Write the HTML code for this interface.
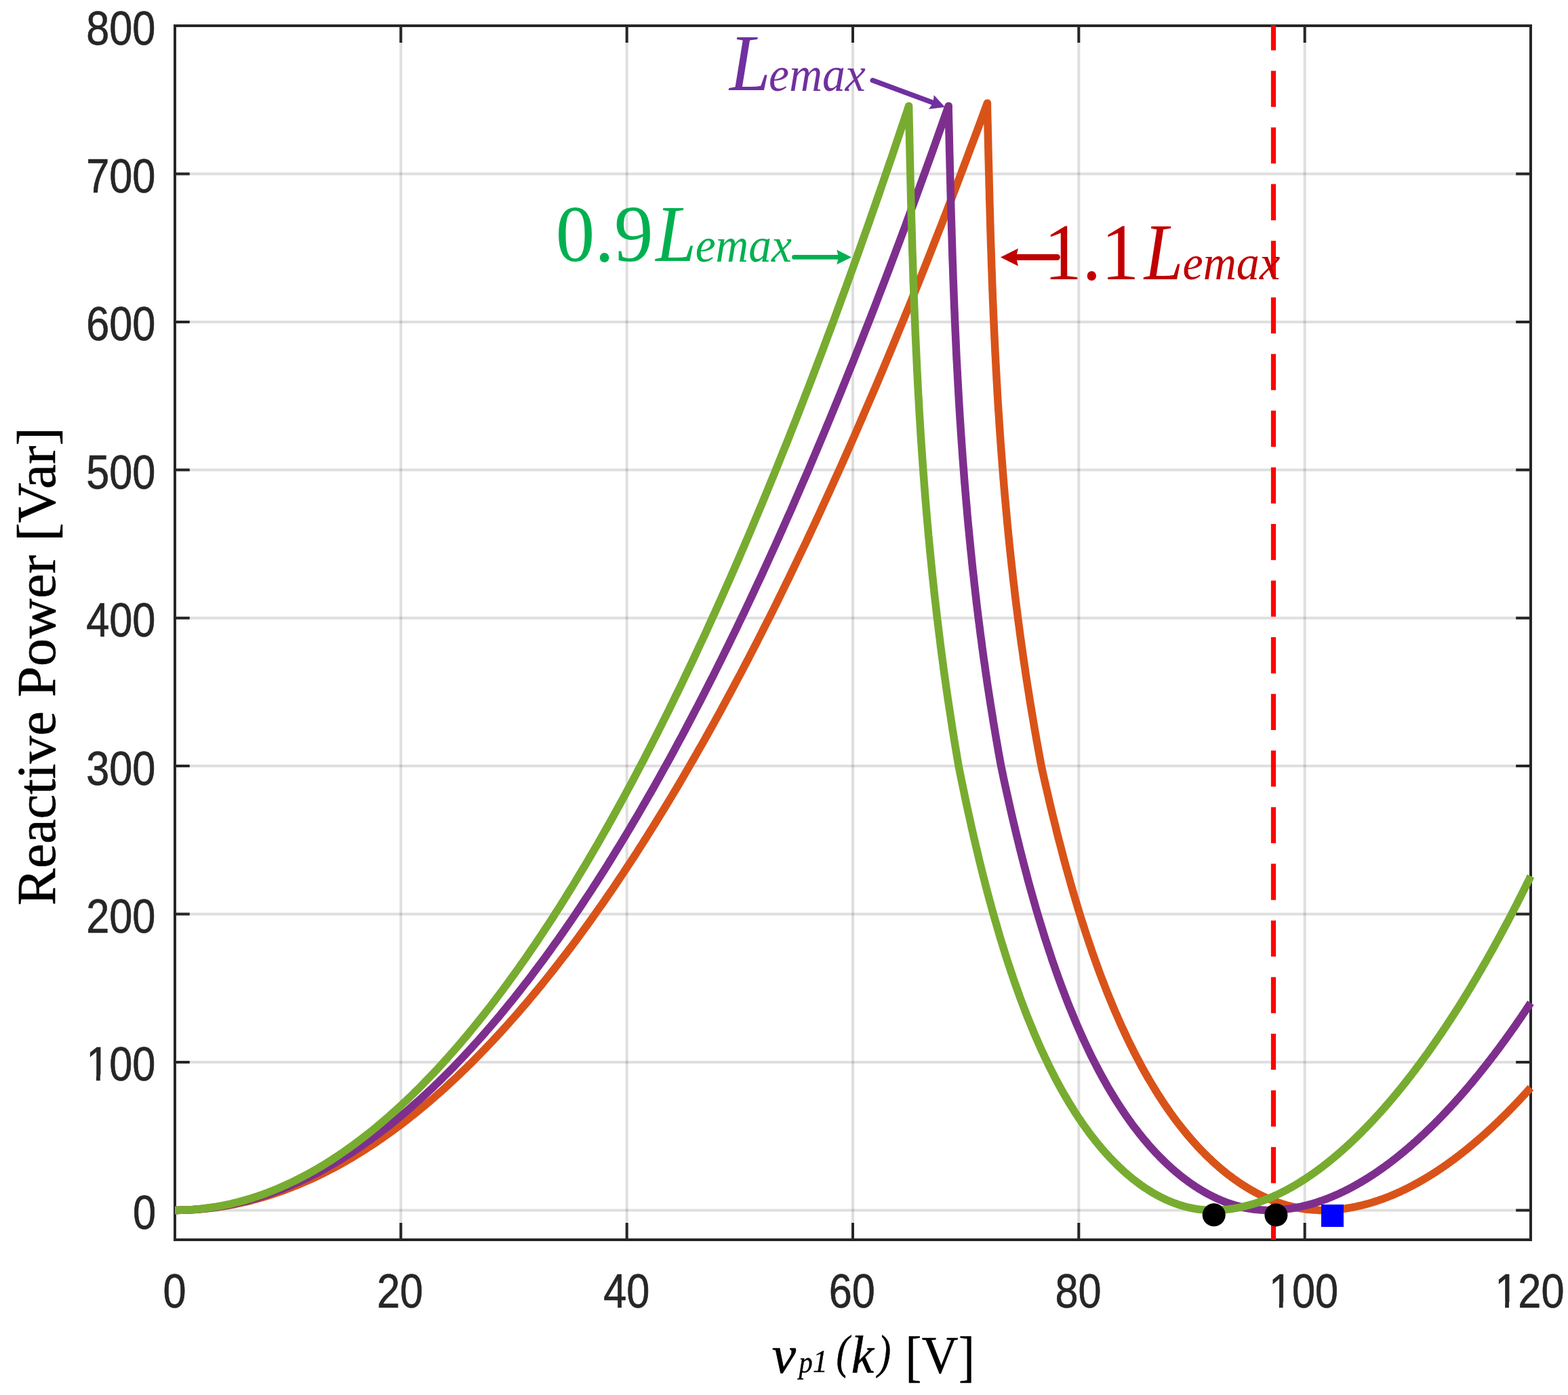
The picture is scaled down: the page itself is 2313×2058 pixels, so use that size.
<!DOCTYPE html><html><head><meta charset="utf-8"><title>Reactive Power vs v_p1(k)</title><style>html,body{margin:0;padding:0;background:#fff;}svg{display:block}</style></head><body>
<svg width="2313" height="2058" viewBox="0 0 2313 2058">
<rect width="2313" height="2058" fill="#fff"/>
<path d="M591.3,40 V1827 M924.7,40 V1827 M1258.0,40 V1827 M1591.3,40 V1827 M1924.7,40 V1827" stroke="#262626" stroke-opacity="0.15" stroke-width="4" fill="none"/>
<path d="M260,1785.4 H2256 M260,1567.0 H2256 M260,1348.6 H2256 M260,1130.1 H2256 M260,911.7 H2256 M260,693.3 H2256 M260,474.9 H2256 M260,256.4 H2256" stroke="#262626" stroke-opacity="0.15" stroke-width="4" fill="none"/>
<path d="M258.0,1829 V1804 M258.0,38 V63 M591.3,1829 V1804 M591.3,38 V63 M924.7,1829 V1804 M924.7,38 V63 M1258.0,1829 V1804 M1258.0,38 V63 M1591.3,1829 V1804 M1591.3,38 V63 M1924.7,1829 V1804 M1924.7,38 V63 M2258.0,1829 V1804 M2258.0,38 V63 M258,1785.4 H279.8 M2258,1785.4 H2236.2 M258,1567.0 H279.8 M2258,1567.0 H2236.2 M258,1348.6 H279.8 M2258,1348.6 H2236.2 M258,1130.1 H279.8 M2258,1130.1 H2236.2 M258,911.7 H279.8 M2258,911.7 H2236.2 M258,693.3 H279.8 M2258,693.3 H2236.2 M258,474.9 H279.8 M2258,474.9 H2236.2 M258,256.4 H279.8 M2258,256.4 H2236.2 M258,38.0 H279.8 M2258,38.0 H2236.2" stroke="#262626" stroke-width="4" fill="none"/>
<rect x="258" y="38" width="2000" height="1791" stroke="#262626" stroke-width="4" fill="none"/>
<path d="M258.0,1785.4 L262.0,1785.4 L266.0,1785.3 L270.0,1785.2 L274.0,1785.1 L278.0,1784.9 L282.0,1784.7 L286.1,1784.5 L290.1,1784.2 L294.1,1783.9 L298.1,1783.6 L302.1,1783.2 L306.1,1782.8 L310.1,1782.3 L314.1,1781.8 L318.1,1781.3 L322.1,1780.7 L326.1,1780.1 L330.1,1779.5 L334.2,1778.8 L338.2,1778.1 L342.2,1777.3 L346.2,1776.6 L350.2,1775.7 L354.2,1774.9 L358.2,1774.0 L362.2,1773.1 L366.2,1772.1 L370.2,1771.1 L374.2,1770.0 L378.2,1769.0 L382.2,1767.8 L386.3,1766.7 L390.3,1765.5 L394.3,1764.3 L398.3,1763.0 L402.3,1761.7 L406.3,1760.4 L410.3,1759.0 L414.3,1757.6 L418.3,1756.2 L422.3,1754.7 L426.3,1753.2 L430.3,1751.6 L434.4,1750.0 L438.4,1748.4 L442.4,1746.7 L446.4,1745.0 L450.4,1743.3 L454.4,1741.5 L458.4,1739.7 L462.4,1737.9 L466.4,1736.0 L470.4,1734.1 L474.4,1732.1 L478.4,1730.1 L482.4,1728.1 L486.5,1726.0 L490.5,1723.9 L494.5,1721.8 L498.5,1719.6 L502.5,1717.4 L506.5,1715.2 L510.5,1712.9 L514.5,1710.6 L518.5,1708.2 L522.5,1705.8 L526.5,1703.4 L530.5,1700.9 L534.6,1698.4 L538.6,1695.9 L542.6,1693.3 L546.6,1690.7 L550.6,1688.1 L554.6,1685.4 L558.6,1682.6 L562.6,1679.9 L566.6,1677.1 L570.6,1674.3 L574.6,1671.4 L578.6,1668.5 L582.6,1665.5 L586.7,1662.6 L590.7,1659.6 L594.7,1656.5 L598.7,1653.4 L602.7,1650.3 L606.7,1647.1 L610.7,1643.9 L614.7,1640.7 L618.7,1637.4 L622.7,1634.1 L626.7,1630.8 L630.7,1627.4 L634.8,1624.0 L638.8,1620.5 L642.8,1617.0 L646.8,1613.5 L650.8,1610.0 L654.8,1606.4 L658.8,1602.7 L662.8,1599.0 L666.8,1595.3 L670.8,1591.6 L674.8,1587.8 L678.8,1584.0 L682.8,1580.1 L686.9,1576.3 L690.9,1572.3 L694.9,1568.4 L698.9,1564.4 L702.9,1560.3 L706.9,1556.2 L710.9,1552.1 L714.9,1548.0 L718.9,1543.8 L722.9,1539.6 L726.9,1535.3 L730.9,1531.0 L735.0,1526.7 L739.0,1522.3 L743.0,1517.9 L747.0,1513.5 L751.0,1509.0 L755.0,1504.5 L759.0,1500.0 L763.0,1495.4 L767.0,1490.8 L771.0,1486.1 L775.0,1481.4 L779.0,1476.7 L783.0,1471.9 L787.1,1467.1 L791.1,1462.3 L795.1,1457.4 L799.1,1452.5 L803.1,1447.5 L807.1,1442.5 L811.1,1437.5 L815.1,1432.4 L819.1,1427.4 L823.1,1422.2 L827.1,1417.0 L831.1,1411.8 L835.2,1406.6 L839.2,1401.3 L843.2,1396.0 L847.2,1390.7 L851.2,1385.3 L855.2,1379.8 L859.2,1374.4 L863.2,1368.9 L867.2,1363.3 L871.2,1357.8 L875.2,1352.2 L879.2,1346.5 L883.2,1340.8 L887.3,1335.1 L891.3,1329.4 L895.3,1323.6 L899.3,1317.7 L903.3,1311.9 L907.3,1306.0 L911.3,1300.0 L915.3,1294.1 L919.3,1288.1 L923.3,1282.0 L927.3,1275.9 L931.3,1269.8 L935.4,1263.7 L939.4,1257.5 L943.4,1251.2 L947.4,1245.0 L951.4,1238.7 L955.4,1232.3 L959.4,1225.9 L963.4,1219.5 L967.4,1213.1 L971.4,1206.6 L975.4,1200.1 L979.4,1193.5 L983.4,1186.9 L987.5,1180.3 L991.5,1173.6 L995.5,1166.9 L999.5,1160.2 L1003.5,1153.4 L1007.5,1146.6 L1011.5,1139.7 L1015.5,1132.9 L1019.5,1125.9 L1023.5,1119.0 L1027.5,1112.0 L1031.5,1104.9 L1035.6,1097.9 L1039.6,1090.8 L1043.6,1083.6 L1047.6,1076.4 L1051.6,1069.2 L1055.6,1062.0 L1059.6,1054.7 L1063.6,1047.4 L1067.6,1040.0 L1071.6,1032.6 L1075.6,1025.2 L1079.6,1017.7 L1083.6,1010.2 L1087.7,1002.6 L1091.7,995.1 L1095.7,987.4 L1099.7,979.8 L1103.7,972.1 L1107.7,964.4 L1111.7,956.6 L1115.7,948.8 L1119.7,941.0 L1123.7,933.1 L1127.7,925.2 L1131.7,917.2 L1135.8,909.3 L1139.8,901.2 L1143.8,893.2 L1147.8,885.1 L1151.8,877.0 L1155.8,868.8 L1159.8,860.6 L1163.8,852.4 L1167.8,844.1 L1171.8,835.8 L1175.8,827.4 L1179.8,819.0 L1183.8,810.6 L1187.9,802.2 L1191.9,793.7 L1195.9,785.1 L1199.9,776.6 L1203.9,768.0 L1207.9,759.3 L1211.9,750.6 L1215.9,741.9 L1219.9,733.2 L1223.9,724.4 L1227.9,715.6 L1231.9,706.7 L1235.9,697.8 L1240.0,688.9 L1244.0,679.9 L1248.0,670.9 L1252.0,661.9 L1256.0,652.8 L1260.0,643.7 L1264.0,634.5 L1268.0,625.3 L1272.0,616.1 L1276.0,606.8 L1280.0,597.5 L1284.0,588.2 L1288.1,578.8 L1292.1,569.4 L1296.1,560.0 L1300.1,550.5 L1304.1,541.0 L1308.1,531.4 L1312.1,521.8 L1316.1,512.2 L1320.1,502.5 L1324.1,492.8 L1328.1,483.1 L1332.1,473.3 L1336.1,463.5 L1340.2,453.7 L1344.2,443.8 L1348.2,433.9 L1352.2,423.9 L1356.2,413.9 L1360.2,403.9 L1364.2,393.8 L1368.2,383.7 L1372.2,373.6 L1376.2,363.4 L1380.2,353.2 L1384.2,343.0 L1388.3,332.7 L1392.3,322.3 L1396.3,312.0 L1400.3,301.6 L1404.3,291.2 L1408.3,280.7 L1412.3,270.2 L1416.3,259.7 L1420.3,249.1 L1424.3,238.5 L1428.3,227.8 L1432.3,217.1 L1436.3,206.4 L1440.4,195.6 L1444.4,184.8 L1448.4,174.0 L1452.4,163.1 L1456.4,152.2 L1456.4,158.8 L1456.6,165.4 L1456.7,171.9 L1456.9,178.5 L1457.1,185.1 L1457.2,191.6 L1457.4,198.2 L1457.5,204.7 L1457.7,211.3 L1457.8,217.9 L1458.0,224.4 L1458.1,231.0 L1458.3,237.6 L1458.5,244.1 L1458.6,250.7 L1458.8,257.2 L1459.0,263.8 L1459.1,270.4 L1459.3,276.9 L1459.5,283.5 L1459.6,290.1 L1459.8,296.6 L1460.0,303.2 L1460.2,309.7 L1460.4,316.3 L1460.6,322.9 L1460.7,329.4 L1460.9,336.0 L1461.1,342.6 L1461.3,349.1 L1461.5,355.7 L1461.7,362.3 L1462.0,368.8 L1462.2,375.4 L1462.4,381.9 L1462.6,388.5 L1462.8,395.1 L1463.1,401.6 L1463.3,408.2 L1463.5,414.8 L1463.8,421.3 L1464.0,427.9 L1464.3,434.4 L1464.5,441.0 L1464.8,447.6 L1465.1,454.1 L1465.3,460.7 L1465.6,467.3 L1465.9,473.8 L1466.2,480.4 L1466.5,486.9 L1466.8,493.5 L1467.1,500.1 L1467.4,506.6 L1467.7,513.2 L1468.0,519.8 L1468.4,526.3 L1468.7,532.9 L1469.1,539.5 L1469.4,546.0 L1469.8,552.6 L1470.1,559.1 L1470.5,565.7 L1470.9,572.3 L1471.2,578.8 L1471.6,585.4 L1472.0,592.0 L1472.4,598.5 L1472.8,605.1 L1473.3,611.6 L1473.7,618.2 L1474.1,624.8 L1474.6,631.3 L1475.0,637.9 L1475.5,644.5 L1475.9,651.0 L1476.4,657.6 L1476.9,664.2 L1477.4,670.7 L1477.9,677.3 L1478.4,683.8 L1478.9,690.4 L1479.4,697.0 L1479.9,703.5 L1480.5,710.1 L1481.0,716.7 L1481.6,723.2 L1482.1,729.8 L1482.7,736.3 L1483.3,742.9 L1483.9,749.5 L1484.5,756.0 L1485.1,762.6 L1485.7,769.2 L1486.3,775.7 L1487.0,782.3 L1487.6,788.8 L1488.3,795.4 L1488.9,802.0 L1489.6,808.5 L1490.3,815.1 L1491.0,821.7 L1491.7,828.2 L1492.4,834.8 L1493.2,841.4 L1493.9,847.9 L1494.6,854.5 L1495.4,861.0 L1496.2,867.6 L1496.9,874.2 L1497.7,880.7 L1498.5,887.3 L1499.3,893.9 L1500.2,900.4 L1501.0,907.0 L1501.8,913.5 L1502.7,920.1 L1503.6,926.7 L1504.4,933.2 L1505.3,939.8 L1506.2,946.4 L1507.1,952.9 L1508.1,959.5 L1509.0,966.0 L1509.9,972.6 L1510.9,979.2 L1511.9,985.7 L1512.8,992.3 L1513.8,998.9 L1514.8,1005.4 L1515.8,1012.0 L1516.9,1018.6 L1517.9,1025.1 L1518.9,1031.7 L1520.0,1038.2 L1521.1,1044.8 L1522.2,1051.4 L1523.3,1057.9 L1524.4,1064.5 L1525.5,1071.1 L1526.6,1077.6 L1527.8,1084.2 L1528.9,1090.7 L1530.1,1097.3 L1531.3,1103.9 L1532.5,1110.4 L1533.7,1117.0 L1534.9,1123.6 L1536.2,1130.1 L1538.2,1139.6 L1540.3,1148.9 L1542.4,1158.1 L1544.5,1167.1 L1546.6,1176.1 L1548.6,1185.0 L1550.7,1193.7 L1552.8,1202.3 L1554.9,1210.8 L1557.0,1219.2 L1559.0,1227.6 L1561.1,1235.8 L1563.2,1243.8 L1565.3,1251.8 L1567.4,1259.7 L1569.4,1267.5 L1571.5,1275.2 L1573.6,1282.8 L1575.7,1290.3 L1577.8,1297.7 L1579.8,1305.0 L1581.9,1312.2 L1584.0,1319.3 L1586.1,1326.4 L1588.2,1333.3 L1590.2,1340.2 L1592.3,1346.9 L1594.4,1353.6 L1596.5,1360.2 L1598.6,1366.7 L1600.6,1373.1 L1602.7,1379.5 L1604.8,1385.8 L1606.9,1391.9 L1609.0,1398.0 L1611.0,1404.1 L1613.1,1410.0 L1615.2,1415.9 L1617.3,1421.7 L1619.4,1427.4 L1621.4,1433.1 L1623.5,1438.7 L1625.6,1444.2 L1627.7,1449.6 L1629.8,1455.0 L1631.8,1460.3 L1633.9,1465.5 L1636.0,1470.7 L1638.1,1475.8 L1640.2,1480.8 L1642.2,1485.8 L1644.3,1490.7 L1646.4,1495.5 L1648.5,1500.3 L1650.6,1505.0 L1652.6,1509.7 L1654.7,1514.3 L1656.8,1518.8 L1658.9,1523.3 L1661.0,1527.8 L1663.0,1532.1 L1665.1,1536.4 L1667.2,1540.7 L1669.3,1544.9 L1671.4,1549.1 L1673.4,1553.2 L1675.5,1557.2 L1677.6,1561.2 L1679.7,1565.1 L1681.8,1569.0 L1683.8,1572.9 L1685.9,1576.7 L1688.0,1580.4 L1690.1,1584.1 L1692.2,1587.8 L1694.2,1591.4 L1696.3,1594.9 L1698.4,1598.4 L1700.5,1601.9 L1702.6,1605.3 L1704.6,1608.7 L1706.7,1612.0 L1708.8,1615.3 L1710.9,1618.5 L1713.0,1621.7 L1715.0,1624.9 L1717.1,1628.0 L1719.2,1631.1 L1721.3,1634.1 L1723.4,1637.1 L1725.4,1640.1 L1727.5,1643.0 L1729.6,1645.9 L1731.7,1648.8 L1733.8,1651.6 L1735.8,1654.3 L1737.9,1657.1 L1740.0,1659.8 L1742.1,1662.4 L1744.2,1665.0 L1746.2,1667.6 L1748.3,1670.2 L1750.4,1672.7 L1752.5,1675.2 L1754.6,1677.6 L1756.6,1680.1 L1758.7,1682.4 L1760.8,1684.8 L1762.9,1687.1 L1765.0,1689.4 L1767.0,1691.7 L1769.1,1693.9 L1771.2,1696.1 L1773.3,1698.2 L1775.4,1700.4 L1777.4,1702.5 L1779.5,1704.5 L1781.6,1706.6 L1783.7,1708.6 L1785.8,1710.5 L1787.8,1712.5 L1789.9,1714.4 L1792.0,1716.3 L1794.1,1718.2 L1796.2,1720.0 L1798.2,1721.8 L1800.3,1723.6 L1802.4,1725.3 L1804.5,1727.1 L1806.6,1728.8 L1808.6,1730.4 L1810.7,1732.1 L1812.8,1733.7 L1814.9,1735.3 L1817.0,1736.8 L1819.0,1738.4 L1821.1,1739.9 L1823.2,1741.3 L1825.3,1742.8 L1827.4,1744.2 L1829.4,1745.6 L1831.5,1747.0 L1833.6,1748.4 L1835.7,1749.7 L1837.8,1751.0 L1839.8,1752.3 L1841.9,1753.5 L1844.0,1754.7 L1846.1,1755.9 L1848.2,1757.1 L1850.2,1758.3 L1852.3,1759.4 L1854.4,1760.5 L1856.5,1761.6 L1858.6,1762.6 L1860.6,1763.6 L1862.7,1764.6 L1864.8,1765.6 L1866.9,1766.6 L1869.0,1767.5 L1871.0,1768.4 L1873.1,1769.3 L1875.2,1770.2 L1877.3,1771.0 L1879.4,1771.8 L1881.4,1772.6 L1883.5,1773.4 L1885.6,1774.1 L1887.7,1774.8 L1889.8,1775.5 L1891.8,1776.2 L1893.9,1776.8 L1896.0,1777.5 L1898.1,1778.1 L1900.2,1778.6 L1902.2,1779.2 L1904.3,1779.7 L1906.4,1780.2 L1908.5,1780.7 L1910.6,1781.2 L1912.6,1781.6 L1914.7,1782.0 L1916.8,1782.4 L1918.9,1782.8 L1921.0,1783.1 L1923.0,1783.4 L1925.1,1783.7 L1927.2,1784.0 L1929.3,1784.2 L1931.4,1784.4 L1933.4,1784.6 L1935.5,1784.8 L1937.6,1785.0 L1939.7,1785.1 L1941.8,1785.2 L1943.8,1785.3 L1945.9,1785.4 L1948.0,1785.4 L1950.1,1785.4 L1951.8,1785.4 L1953.6,1785.4 L1955.3,1785.3 L1957.0,1785.3 L1958.8,1785.2 L1960.5,1785.2 L1962.3,1785.1 L1964.0,1785.0 L1965.8,1784.9 L1967.5,1784.7 L1969.2,1784.6 L1971.0,1784.5 L1972.7,1784.3 L1974.5,1784.1 L1976.2,1783.9 L1978.0,1783.7 L1979.7,1783.5 L1981.4,1783.3 L1983.2,1783.1 L1984.9,1782.8 L1986.7,1782.5 L1988.4,1782.3 L1990.1,1782.0 L1991.9,1781.7 L1993.6,1781.4 L1995.4,1781.0 L1997.1,1780.7 L1998.9,1780.4 L2000.6,1780.0 L2002.3,1779.6 L2004.1,1779.2 L2005.8,1778.8 L2007.6,1778.4 L2009.3,1778.0 L2011.1,1777.6 L2012.8,1777.1 L2014.5,1776.7 L2016.3,1776.2 L2018.0,1775.7 L2019.8,1775.2 L2021.5,1774.7 L2023.2,1774.2 L2025.0,1773.7 L2026.7,1773.1 L2028.5,1772.6 L2030.2,1772.0 L2032.0,1771.4 L2033.7,1770.8 L2035.4,1770.2 L2037.2,1769.6 L2038.9,1769.0 L2040.7,1768.4 L2042.4,1767.7 L2044.2,1767.0 L2045.9,1766.4 L2047.6,1765.7 L2049.4,1765.0 L2051.1,1764.3 L2052.9,1763.6 L2054.6,1762.9 L2056.4,1762.1 L2058.1,1761.4 L2059.8,1760.6 L2061.6,1759.8 L2063.3,1759.0 L2065.1,1758.3 L2066.8,1757.4 L2068.5,1756.6 L2070.3,1755.8 L2072.0,1755.0 L2073.8,1754.1 L2075.5,1753.2 L2077.3,1752.4 L2079.0,1751.5 L2080.7,1750.6 L2082.5,1749.7 L2084.2,1748.8 L2086.0,1747.8 L2087.7,1746.9 L2089.5,1745.9 L2091.2,1745.0 L2092.9,1744.0 L2094.7,1743.0 L2096.4,1742.0 L2098.2,1741.0 L2099.9,1740.0 L2101.6,1739.0 L2103.4,1738.0 L2105.1,1736.9 L2106.9,1735.8 L2108.6,1734.8 L2110.4,1733.7 L2112.1,1732.6 L2113.8,1731.5 L2115.6,1730.4 L2117.3,1729.3 L2119.1,1728.1 L2120.8,1727.0 L2122.6,1725.8 L2124.3,1724.7 L2126.0,1723.5 L2127.8,1722.3 L2129.5,1721.1 L2131.3,1719.9 L2133.0,1718.7 L2134.7,1717.5 L2136.5,1716.2 L2138.2,1715.0 L2140.0,1713.7 L2141.7,1712.4 L2143.5,1711.2 L2145.2,1709.9 L2146.9,1708.6 L2148.7,1707.2 L2150.4,1705.9 L2152.2,1704.6 L2153.9,1703.3 L2155.7,1701.9 L2157.4,1700.5 L2159.1,1699.2 L2160.9,1697.8 L2162.6,1696.4 L2164.4,1695.0 L2166.1,1693.6 L2167.8,1692.1 L2169.6,1690.7 L2171.3,1689.3 L2173.1,1687.8 L2174.8,1686.3 L2176.6,1684.9 L2178.3,1683.4 L2180.0,1681.9 L2181.8,1680.4 L2183.5,1678.8 L2185.3,1677.3 L2187.0,1675.8 L2188.8,1674.2 L2190.5,1672.7 L2192.2,1671.1 L2194.0,1669.5 L2195.7,1667.9 L2197.5,1666.3 L2199.2,1664.7 L2201.0,1663.1 L2202.7,1661.5 L2204.4,1659.8 L2206.2,1658.2 L2207.9,1656.5 L2209.7,1654.9 L2211.4,1653.2 L2213.1,1651.5 L2214.9,1649.8 L2216.6,1648.1 L2218.4,1646.4 L2220.1,1644.6 L2221.9,1642.9 L2223.6,1641.2 L2225.3,1639.4 L2227.1,1637.6 L2228.8,1635.8 L2230.6,1634.1 L2232.3,1632.3 L2234.1,1630.4 L2235.8,1628.6 L2237.5,1626.8 L2239.3,1625.0 L2241.0,1623.1 L2242.8,1621.2 L2244.5,1619.4 L2246.2,1617.5 L2248.0,1615.6 L2249.7,1613.7 L2251.5,1611.8 L2253.2,1609.9 L2255.0,1608.0 L2256.7,1606.0 L2258.0,1604.6" stroke="#D95319" stroke-width="11.5" fill="none" stroke-linejoin="round" stroke-linecap="butt"/>
<path d="M258.0,1785.4 L261.8,1785.4 L265.6,1785.3 L269.4,1785.2 L273.3,1785.1 L277.1,1784.9 L280.9,1784.7 L284.7,1784.5 L288.5,1784.2 L292.3,1783.9 L296.2,1783.6 L300.0,1783.2 L303.8,1782.8 L307.6,1782.3 L311.4,1781.8 L315.2,1781.3 L319.1,1780.7 L322.9,1780.1 L326.7,1779.5 L330.5,1778.8 L334.3,1778.1 L338.1,1777.4 L342.0,1776.6 L345.8,1775.8 L349.6,1774.9 L353.4,1774.0 L357.2,1773.1 L361.0,1772.1 L364.9,1771.1 L368.7,1770.1 L372.5,1769.0 L376.3,1767.9 L380.1,1766.7 L383.9,1765.6 L387.8,1764.3 L391.6,1763.1 L395.4,1761.8 L399.2,1760.5 L403.0,1759.1 L406.8,1757.7 L410.7,1756.2 L414.5,1754.8 L418.3,1753.3 L422.1,1751.7 L425.9,1750.1 L429.7,1748.5 L433.6,1746.8 L437.4,1745.1 L441.2,1743.4 L445.0,1741.7 L448.8,1739.8 L452.6,1738.0 L456.5,1736.1 L460.3,1734.2 L464.1,1732.3 L467.9,1730.3 L471.7,1728.3 L475.5,1726.2 L479.4,1724.1 L483.2,1722.0 L487.0,1719.8 L490.8,1717.6 L494.6,1715.4 L498.4,1713.1 L502.3,1710.8 L506.1,1708.4 L509.9,1706.0 L513.7,1703.6 L517.5,1701.1 L521.3,1698.6 L525.2,1696.1 L529.0,1693.5 L532.8,1690.9 L536.6,1688.3 L540.4,1685.6 L544.2,1682.9 L548.1,1680.2 L551.9,1677.4 L555.7,1674.5 L559.5,1671.7 L563.3,1668.8 L567.1,1665.8 L571.0,1662.9 L574.8,1659.9 L578.6,1656.8 L582.4,1653.8 L586.2,1650.6 L590.0,1647.5 L593.9,1644.3 L597.7,1641.1 L601.5,1637.8 L605.3,1634.5 L609.1,1631.2 L612.9,1627.8 L616.8,1624.4 L620.6,1621.0 L624.4,1617.5 L628.2,1614.0 L632.0,1610.4 L635.8,1606.8 L639.7,1603.2 L643.5,1599.5 L647.3,1595.8 L651.1,1592.1 L654.9,1588.3 L658.7,1584.5 L662.6,1580.7 L666.4,1576.8 L670.2,1572.9 L674.0,1568.9 L677.8,1564.9 L681.6,1560.9 L685.5,1556.8 L689.3,1552.7 L693.1,1548.6 L696.9,1544.4 L700.7,1540.2 L704.5,1536.0 L708.4,1531.7 L712.2,1527.4 L716.0,1523.0 L719.8,1518.6 L723.6,1514.2 L727.4,1509.7 L731.3,1505.2 L735.1,1500.7 L738.9,1496.1 L742.7,1491.5 L746.5,1486.9 L750.3,1482.2 L754.2,1477.5 L758.0,1472.7 L761.8,1467.9 L765.6,1463.1 L769.4,1458.2 L773.2,1453.3 L777.1,1448.4 L780.9,1443.4 L784.7,1438.4 L788.5,1433.3 L792.3,1428.3 L796.1,1423.1 L800.0,1418.0 L803.8,1412.8 L807.6,1407.6 L811.4,1402.3 L815.2,1397.0 L819.0,1391.7 L822.9,1386.3 L826.7,1380.9 L830.5,1375.4 L834.3,1369.9 L838.1,1364.4 L841.9,1358.9 L845.8,1353.3 L849.6,1347.6 L853.4,1342.0 L857.2,1336.3 L861.0,1330.5 L864.8,1324.7 L868.7,1318.9 L872.5,1313.1 L876.3,1307.2 L880.1,1301.3 L883.9,1295.3 L887.7,1289.3 L891.6,1283.3 L895.4,1277.2 L899.2,1271.1 L903.0,1265.0 L906.8,1258.8 L910.6,1252.6 L914.5,1246.3 L918.3,1240.1 L922.1,1233.7 L925.9,1227.4 L929.7,1221.0 L933.5,1214.5 L937.4,1208.1 L941.2,1201.6 L945.0,1195.0 L948.8,1188.4 L952.6,1181.8 L956.4,1175.2 L960.3,1168.5 L964.1,1161.8 L967.9,1155.0 L971.7,1148.2 L975.5,1141.4 L979.3,1134.5 L983.2,1127.6 L987.0,1120.7 L990.8,1113.7 L994.6,1106.7 L998.4,1099.6 L1002.2,1092.5 L1006.1,1085.4 L1009.9,1078.2 L1013.7,1071.0 L1017.5,1063.8 L1021.3,1056.5 L1025.1,1049.2 L1029.0,1041.9 L1032.8,1034.5 L1036.6,1027.1 L1040.4,1019.6 L1044.2,1012.2 L1048.0,1004.6 L1051.9,997.1 L1055.7,989.5 L1059.5,981.8 L1063.3,974.2 L1067.1,966.5 L1070.9,958.7 L1074.8,950.9 L1078.6,943.1 L1082.4,935.3 L1086.2,927.4 L1090.0,919.4 L1093.8,911.5 L1097.7,903.5 L1101.5,895.4 L1105.3,887.4 L1109.1,879.3 L1112.9,871.1 L1116.7,862.9 L1120.6,854.7 L1124.4,846.5 L1128.2,838.2 L1132.0,829.9 L1135.8,821.5 L1139.6,813.1 L1143.5,804.7 L1147.3,796.2 L1151.1,787.7 L1154.9,779.1 L1158.7,770.5 L1162.5,761.9 L1166.4,753.3 L1170.2,744.6 L1174.0,735.8 L1177.8,727.1 L1181.6,718.3 L1185.4,709.4 L1189.3,700.6 L1193.1,691.7 L1196.9,682.7 L1200.7,673.7 L1204.5,664.7 L1208.3,655.7 L1212.2,646.6 L1216.0,637.4 L1219.8,628.3 L1223.6,619.1 L1227.4,609.8 L1231.2,600.6 L1235.1,591.2 L1238.9,581.9 L1242.7,572.5 L1246.5,563.1 L1250.3,553.6 L1254.1,544.1 L1258.0,534.6 L1261.8,525.0 L1265.6,515.4 L1269.4,505.8 L1273.2,496.1 L1277.0,486.4 L1280.9,476.7 L1284.7,466.9 L1288.5,457.1 L1292.3,447.2 L1296.1,437.3 L1299.9,427.4 L1303.8,417.4 L1307.6,407.4 L1311.4,397.4 L1315.2,387.3 L1319.0,377.2 L1322.8,367.0 L1326.7,356.8 L1330.5,346.6 L1334.3,336.4 L1338.1,326.1 L1341.9,315.7 L1345.7,305.4 L1349.6,295.0 L1353.4,284.5 L1357.2,274.0 L1361.0,263.5 L1364.8,253.0 L1368.6,242.4 L1372.5,231.8 L1376.3,221.1 L1380.1,210.4 L1383.9,199.7 L1387.7,188.9 L1391.5,178.1 L1395.4,167.3 L1399.2,156.4 L1399.2,162.9 L1399.4,169.5 L1399.5,176.0 L1399.7,182.5 L1399.9,189.1 L1400.0,195.6 L1400.2,202.1 L1400.3,208.7 L1400.5,215.2 L1400.6,221.7 L1400.8,228.3 L1401.0,234.8 L1401.1,241.3 L1401.3,247.9 L1401.5,254.4 L1401.6,260.9 L1401.8,267.5 L1402.0,274.0 L1402.1,280.6 L1402.3,287.1 L1402.5,293.6 L1402.7,300.2 L1402.8,306.7 L1403.0,313.2 L1403.2,319.8 L1403.4,326.3 L1403.6,332.8 L1403.8,339.4 L1404.0,345.9 L1404.2,352.4 L1404.4,359.0 L1404.6,365.5 L1404.8,372.0 L1405.0,378.6 L1405.2,385.1 L1405.5,391.7 L1405.7,398.2 L1405.9,404.7 L1406.1,411.3 L1406.4,417.8 L1406.6,424.3 L1406.9,430.9 L1407.1,437.4 L1407.4,443.9 L1407.6,450.5 L1407.9,457.0 L1408.2,463.5 L1408.4,470.1 L1408.7,476.6 L1409.0,483.1 L1409.3,489.7 L1409.6,496.2 L1409.9,502.7 L1410.2,509.3 L1410.5,515.8 L1410.8,522.4 L1411.1,528.9 L1411.5,535.4 L1411.8,542.0 L1412.2,548.5 L1412.5,555.0 L1412.9,561.6 L1413.2,568.1 L1413.6,574.6 L1414.0,581.2 L1414.3,587.7 L1414.7,594.2 L1415.1,600.8 L1415.5,607.3 L1415.9,613.8 L1416.3,620.4 L1416.8,626.9 L1417.2,633.5 L1417.6,640.0 L1418.1,646.5 L1418.5,653.1 L1419.0,659.6 L1419.5,666.1 L1419.9,672.7 L1420.4,679.2 L1420.9,685.7 L1421.4,692.3 L1421.9,698.8 L1422.4,705.3 L1422.9,711.9 L1423.5,718.4 L1424.0,724.9 L1424.6,731.5 L1425.1,738.0 L1425.7,744.6 L1426.3,751.1 L1426.8,757.6 L1427.4,764.2 L1428.0,770.7 L1428.6,777.2 L1429.3,783.8 L1429.9,790.3 L1430.5,796.8 L1431.2,803.4 L1431.8,809.9 L1432.5,816.4 L1433.2,823.0 L1433.8,829.5 L1434.5,836.0 L1435.2,842.6 L1436.0,849.1 L1436.7,855.6 L1437.4,862.2 L1438.2,868.7 L1438.9,875.3 L1439.7,881.8 L1440.4,888.3 L1441.2,894.9 L1442.0,901.4 L1442.8,907.9 L1443.6,914.5 L1444.5,921.0 L1445.3,927.5 L1446.1,934.1 L1447.0,940.6 L1447.9,947.1 L1448.7,953.7 L1449.6,960.2 L1450.5,966.7 L1451.4,973.3 L1452.4,979.8 L1453.3,986.4 L1454.2,992.9 L1455.2,999.4 L1456.1,1006.0 L1457.1,1012.5 L1458.1,1019.0 L1459.1,1025.6 L1460.1,1032.1 L1461.1,1038.6 L1462.2,1045.2 L1463.2,1051.7 L1464.3,1058.2 L1465.3,1064.8 L1466.4,1071.3 L1467.5,1077.8 L1468.6,1084.4 L1469.7,1090.9 L1470.9,1097.4 L1472.0,1104.0 L1473.1,1110.5 L1474.3,1117.1 L1475.5,1123.6 L1476.7,1130.1 L1478.7,1139.6 L1480.6,1148.9 L1482.6,1158.1 L1484.6,1167.1 L1486.6,1176.1 L1488.6,1185.0 L1490.6,1193.7 L1492.5,1202.3 L1494.5,1210.8 L1496.5,1219.2 L1498.5,1227.6 L1500.5,1235.8 L1502.5,1243.8 L1504.4,1251.8 L1506.4,1259.7 L1508.4,1267.5 L1510.4,1275.2 L1512.4,1282.8 L1514.4,1290.3 L1516.3,1297.7 L1518.3,1305.0 L1520.3,1312.2 L1522.3,1319.3 L1524.3,1326.4 L1526.3,1333.3 L1528.2,1340.2 L1530.2,1346.9 L1532.2,1353.6 L1534.2,1360.2 L1536.2,1366.7 L1538.2,1373.1 L1540.1,1379.5 L1542.1,1385.8 L1544.1,1391.9 L1546.1,1398.0 L1548.1,1404.1 L1550.1,1410.0 L1552.0,1415.9 L1554.0,1421.7 L1556.0,1427.4 L1558.0,1433.1 L1560.0,1438.7 L1561.9,1444.2 L1563.9,1449.6 L1565.9,1455.0 L1567.9,1460.3 L1569.9,1465.5 L1571.9,1470.7 L1573.8,1475.8 L1575.8,1480.8 L1577.8,1485.8 L1579.8,1490.7 L1581.8,1495.5 L1583.8,1500.3 L1585.7,1505.0 L1587.7,1509.7 L1589.7,1514.3 L1591.7,1518.8 L1593.7,1523.3 L1595.7,1527.8 L1597.6,1532.1 L1599.6,1536.4 L1601.6,1540.7 L1603.6,1544.9 L1605.6,1549.1 L1607.6,1553.2 L1609.5,1557.2 L1611.5,1561.2 L1613.5,1565.1 L1615.5,1569.0 L1617.5,1572.9 L1619.5,1576.7 L1621.4,1580.4 L1623.4,1584.1 L1625.4,1587.8 L1627.4,1591.4 L1629.4,1594.9 L1631.4,1598.4 L1633.3,1601.9 L1635.3,1605.3 L1637.3,1608.7 L1639.3,1612.0 L1641.3,1615.3 L1643.3,1618.5 L1645.2,1621.7 L1647.2,1624.9 L1649.2,1628.0 L1651.2,1631.1 L1653.2,1634.1 L1655.2,1637.1 L1657.1,1640.1 L1659.1,1643.0 L1661.1,1645.9 L1663.1,1648.8 L1665.1,1651.6 L1667.1,1654.3 L1669.0,1657.1 L1671.0,1659.8 L1673.0,1662.4 L1675.0,1665.0 L1677.0,1667.6 L1679.0,1670.2 L1680.9,1672.7 L1682.9,1675.2 L1684.9,1677.6 L1686.9,1680.1 L1688.9,1682.4 L1690.9,1684.8 L1692.8,1687.1 L1694.8,1689.4 L1696.8,1691.7 L1698.8,1693.9 L1700.8,1696.1 L1702.8,1698.2 L1704.7,1700.4 L1706.7,1702.5 L1708.7,1704.5 L1710.7,1706.6 L1712.7,1708.6 L1714.7,1710.5 L1716.6,1712.5 L1718.6,1714.4 L1720.6,1716.3 L1722.6,1718.2 L1724.6,1720.0 L1726.6,1721.8 L1728.5,1723.6 L1730.5,1725.3 L1732.5,1727.1 L1734.5,1728.8 L1736.5,1730.4 L1738.5,1732.1 L1740.4,1733.7 L1742.4,1735.3 L1744.4,1736.8 L1746.4,1738.4 L1748.4,1739.9 L1750.4,1741.3 L1752.3,1742.8 L1754.3,1744.2 L1756.3,1745.6 L1758.3,1747.0 L1760.3,1748.4 L1762.3,1749.7 L1764.2,1751.0 L1766.2,1752.3 L1768.2,1753.5 L1770.2,1754.7 L1772.2,1755.9 L1774.2,1757.1 L1776.1,1758.3 L1778.1,1759.4 L1780.1,1760.5 L1782.1,1761.6 L1784.1,1762.6 L1786.1,1763.6 L1788.0,1764.6 L1790.0,1765.6 L1792.0,1766.6 L1794.0,1767.5 L1796.0,1768.4 L1798.0,1769.3 L1799.9,1770.2 L1801.9,1771.0 L1803.9,1771.8 L1805.9,1772.6 L1807.9,1773.4 L1809.9,1774.1 L1811.8,1774.8 L1813.8,1775.5 L1815.8,1776.2 L1817.8,1776.8 L1819.8,1777.5 L1821.8,1778.1 L1823.7,1778.6 L1825.7,1779.2 L1827.7,1779.7 L1829.7,1780.2 L1831.7,1780.7 L1833.7,1781.2 L1835.6,1781.6 L1837.6,1782.0 L1839.6,1782.4 L1841.6,1782.8 L1843.6,1783.1 L1845.6,1783.4 L1847.5,1783.7 L1849.5,1784.0 L1851.5,1784.2 L1853.5,1784.4 L1855.5,1784.6 L1857.5,1784.8 L1859.4,1785.0 L1861.4,1785.1 L1863.4,1785.2 L1865.4,1785.3 L1867.4,1785.4 L1869.4,1785.4 L1871.3,1785.4 L1873.0,1785.4 L1874.7,1785.4 L1876.3,1785.3 L1878.0,1785.3 L1879.6,1785.2 L1881.3,1785.2 L1883.0,1785.1 L1884.6,1785.0 L1886.3,1784.9 L1887.9,1784.7 L1889.6,1784.6 L1891.3,1784.5 L1892.9,1784.3 L1894.6,1784.1 L1896.2,1783.9 L1897.9,1783.7 L1899.6,1783.5 L1901.2,1783.3 L1902.9,1783.1 L1904.6,1782.8 L1906.2,1782.5 L1907.9,1782.3 L1909.5,1782.0 L1911.2,1781.7 L1912.9,1781.4 L1914.5,1781.0 L1916.2,1780.7 L1917.8,1780.4 L1919.5,1780.0 L1921.2,1779.6 L1922.8,1779.2 L1924.5,1778.8 L1926.1,1778.4 L1927.8,1778.0 L1929.5,1777.6 L1931.1,1777.1 L1932.8,1776.7 L1934.5,1776.2 L1936.1,1775.7 L1937.8,1775.2 L1939.4,1774.7 L1941.1,1774.2 L1942.8,1773.7 L1944.4,1773.1 L1946.1,1772.6 L1947.7,1772.0 L1949.4,1771.4 L1951.1,1770.8 L1952.7,1770.2 L1954.4,1769.6 L1956.0,1769.0 L1957.7,1768.4 L1959.4,1767.7 L1961.0,1767.0 L1962.7,1766.4 L1964.4,1765.7 L1966.0,1765.0 L1967.7,1764.3 L1969.3,1763.6 L1971.0,1762.9 L1972.7,1762.1 L1974.3,1761.4 L1976.0,1760.6 L1977.6,1759.8 L1979.3,1759.0 L1981.0,1758.3 L1982.6,1757.4 L1984.3,1756.6 L1985.9,1755.8 L1987.6,1755.0 L1989.3,1754.1 L1990.9,1753.2 L1992.6,1752.4 L1994.3,1751.5 L1995.9,1750.6 L1997.6,1749.7 L1999.2,1748.8 L2000.9,1747.8 L2002.6,1746.9 L2004.2,1745.9 L2005.9,1745.0 L2007.5,1744.0 L2009.2,1743.0 L2010.9,1742.0 L2012.5,1741.0 L2014.2,1740.0 L2015.8,1739.0 L2017.5,1738.0 L2019.2,1736.9 L2020.8,1735.8 L2022.5,1734.8 L2024.2,1733.7 L2025.8,1732.6 L2027.5,1731.5 L2029.1,1730.4 L2030.8,1729.3 L2032.5,1728.1 L2034.1,1727.0 L2035.8,1725.8 L2037.4,1724.7 L2039.1,1723.5 L2040.8,1722.3 L2042.4,1721.1 L2044.1,1719.9 L2045.7,1718.7 L2047.4,1717.5 L2049.1,1716.2 L2050.7,1715.0 L2052.4,1713.7 L2054.1,1712.4 L2055.7,1711.2 L2057.4,1709.9 L2059.0,1708.6 L2060.7,1707.2 L2062.4,1705.9 L2064.0,1704.6 L2065.7,1703.3 L2067.3,1701.9 L2069.0,1700.5 L2070.7,1699.2 L2072.3,1697.8 L2074.0,1696.4 L2075.6,1695.0 L2077.3,1693.6 L2079.0,1692.1 L2080.6,1690.7 L2082.3,1689.3 L2084.0,1687.8 L2085.6,1686.3 L2087.3,1684.9 L2088.9,1683.4 L2090.6,1681.9 L2092.3,1680.4 L2093.9,1678.8 L2095.6,1677.3 L2097.2,1675.8 L2098.9,1674.2 L2100.6,1672.7 L2102.2,1671.1 L2103.9,1669.5 L2105.5,1667.9 L2107.2,1666.3 L2108.9,1664.7 L2110.5,1663.1 L2112.2,1661.5 L2113.9,1659.8 L2115.5,1658.2 L2117.2,1656.5 L2118.8,1654.9 L2120.5,1653.2 L2122.2,1651.5 L2123.8,1649.8 L2125.5,1648.1 L2127.1,1646.4 L2128.8,1644.6 L2130.5,1642.9 L2132.1,1641.2 L2133.8,1639.4 L2135.4,1637.6 L2137.1,1635.8 L2138.8,1634.1 L2140.4,1632.3 L2142.1,1630.4 L2143.8,1628.6 L2145.4,1626.8 L2147.1,1625.0 L2148.7,1623.1 L2150.4,1621.2 L2152.1,1619.4 L2153.7,1617.5 L2155.4,1615.6 L2157.0,1613.7 L2158.7,1611.8 L2160.4,1609.9 L2162.0,1608.0 L2163.7,1606.0 L2165.3,1604.1 L2167.0,1602.1 L2168.7,1600.1 L2170.3,1598.2 L2172.0,1596.2 L2173.7,1594.2 L2175.3,1592.2 L2177.0,1590.1 L2178.6,1588.1 L2180.3,1586.1 L2182.0,1584.0 L2183.6,1582.0 L2185.3,1579.9 L2186.9,1577.8 L2188.6,1575.7 L2190.3,1573.6 L2191.9,1571.5 L2193.6,1569.4 L2195.2,1567.3 L2196.9,1565.1 L2198.6,1563.0 L2200.2,1560.8 L2201.9,1558.6 L2203.6,1556.5 L2205.2,1554.3 L2206.9,1552.1 L2208.5,1549.9 L2210.2,1547.6 L2211.9,1545.4 L2213.5,1543.2 L2215.2,1540.9 L2216.8,1538.7 L2218.5,1536.4 L2220.2,1534.1 L2221.8,1531.8 L2223.5,1529.5 L2225.1,1527.2 L2226.8,1524.9 L2228.5,1522.5 L2230.1,1520.2 L2231.8,1517.8 L2233.5,1515.5 L2235.1,1513.1 L2236.8,1510.7 L2238.4,1508.3 L2240.1,1505.9 L2241.8,1503.5 L2243.4,1501.1 L2245.1,1498.7 L2246.7,1496.2 L2248.4,1493.8 L2250.1,1491.3 L2251.7,1488.8 L2253.4,1486.3 L2255.0,1483.8 L2256.7,1481.3 L2258.0,1479.4" stroke="#7E2F8E" stroke-width="11.5" fill="none" stroke-linejoin="round" stroke-linecap="butt"/>
<path d="M258.0,1785.4 L261.6,1785.4 L265.2,1785.3 L268.9,1785.2 L272.5,1785.1 L276.1,1784.9 L279.7,1784.7 L283.3,1784.5 L287.0,1784.2 L290.6,1783.9 L294.2,1783.6 L297.8,1783.2 L301.4,1782.8 L305.1,1782.3 L308.7,1781.8 L312.3,1781.3 L315.9,1780.7 L319.6,1780.1 L323.2,1779.5 L326.8,1778.8 L330.4,1778.1 L334.0,1777.4 L337.7,1776.6 L341.3,1775.8 L344.9,1774.9 L348.5,1774.0 L352.1,1773.1 L355.8,1772.1 L359.4,1771.1 L363.0,1770.1 L366.6,1769.0 L370.2,1767.9 L373.9,1766.7 L377.5,1765.6 L381.1,1764.3 L384.7,1763.1 L388.3,1761.8 L392.0,1760.5 L395.6,1759.1 L399.2,1757.7 L402.8,1756.2 L406.5,1754.8 L410.1,1753.3 L413.7,1751.7 L417.3,1750.1 L420.9,1748.5 L424.6,1746.8 L428.2,1745.1 L431.8,1743.4 L435.4,1741.7 L439.0,1739.8 L442.7,1738.0 L446.3,1736.1 L449.9,1734.2 L453.5,1732.3 L457.1,1730.3 L460.8,1728.3 L464.4,1726.2 L468.0,1724.1 L471.6,1722.0 L475.2,1719.8 L478.9,1717.6 L482.5,1715.4 L486.1,1713.1 L489.7,1710.8 L493.3,1708.4 L497.0,1706.0 L500.6,1703.6 L504.2,1701.1 L507.8,1698.6 L511.5,1696.1 L515.1,1693.5 L518.7,1690.9 L522.3,1688.3 L525.9,1685.6 L529.6,1682.9 L533.2,1680.2 L536.8,1677.4 L540.4,1674.5 L544.0,1671.7 L547.7,1668.8 L551.3,1665.8 L554.9,1662.9 L558.5,1659.9 L562.1,1656.8 L565.8,1653.8 L569.4,1650.6 L573.0,1647.5 L576.6,1644.3 L580.2,1641.1 L583.9,1637.8 L587.5,1634.5 L591.1,1631.2 L594.7,1627.8 L598.4,1624.4 L602.0,1621.0 L605.6,1617.5 L609.2,1614.0 L612.8,1610.4 L616.5,1606.8 L620.1,1603.2 L623.7,1599.5 L627.3,1595.8 L630.9,1592.1 L634.6,1588.3 L638.2,1584.5 L641.8,1580.7 L645.4,1576.8 L649.0,1572.9 L652.7,1568.9 L656.3,1564.9 L659.9,1560.9 L663.5,1556.8 L667.1,1552.7 L670.8,1548.6 L674.4,1544.4 L678.0,1540.2 L681.6,1536.0 L685.2,1531.7 L688.9,1527.4 L692.5,1523.0 L696.1,1518.6 L699.7,1514.2 L703.4,1509.7 L707.0,1505.2 L710.6,1500.7 L714.2,1496.1 L717.8,1491.5 L721.5,1486.9 L725.1,1482.2 L728.7,1477.5 L732.3,1472.7 L735.9,1467.9 L739.6,1463.1 L743.2,1458.2 L746.8,1453.3 L750.4,1448.4 L754.0,1443.4 L757.7,1438.4 L761.3,1433.3 L764.9,1428.3 L768.5,1423.1 L772.1,1418.0 L775.8,1412.8 L779.4,1407.6 L783.0,1402.3 L786.6,1397.0 L790.3,1391.7 L793.9,1386.3 L797.5,1380.9 L801.1,1375.4 L804.7,1369.9 L808.4,1364.4 L812.0,1358.9 L815.6,1353.3 L819.2,1347.6 L822.8,1342.0 L826.5,1336.3 L830.1,1330.5 L833.7,1324.7 L837.3,1318.9 L840.9,1313.1 L844.6,1307.2 L848.2,1301.3 L851.8,1295.3 L855.4,1289.3 L859.0,1283.3 L862.7,1277.2 L866.3,1271.1 L869.9,1265.0 L873.5,1258.8 L877.1,1252.6 L880.8,1246.3 L884.4,1240.1 L888.0,1233.7 L891.6,1227.4 L895.3,1221.0 L898.9,1214.5 L902.5,1208.1 L906.1,1201.6 L909.7,1195.0 L913.4,1188.4 L917.0,1181.8 L920.6,1175.2 L924.2,1168.5 L927.8,1161.8 L931.5,1155.0 L935.1,1148.2 L938.7,1141.4 L942.3,1134.5 L945.9,1127.6 L949.6,1120.7 L953.2,1113.7 L956.8,1106.7 L960.4,1099.6 L964.0,1092.5 L967.7,1085.4 L971.3,1078.2 L974.9,1071.0 L978.5,1063.8 L982.2,1056.5 L985.8,1049.2 L989.4,1041.9 L993.0,1034.5 L996.6,1027.1 L1000.3,1019.6 L1003.9,1012.2 L1007.5,1004.6 L1011.1,997.1 L1014.7,989.5 L1018.4,981.8 L1022.0,974.2 L1025.6,966.5 L1029.2,958.7 L1032.8,950.9 L1036.5,943.1 L1040.1,935.3 L1043.7,927.4 L1047.3,919.4 L1050.9,911.5 L1054.6,903.5 L1058.2,895.4 L1061.8,887.4 L1065.4,879.3 L1069.0,871.1 L1072.7,862.9 L1076.3,854.7 L1079.9,846.5 L1083.5,838.2 L1087.2,829.9 L1090.8,821.5 L1094.4,813.1 L1098.0,804.7 L1101.6,796.2 L1105.3,787.7 L1108.9,779.1 L1112.5,770.5 L1116.1,761.9 L1119.7,753.3 L1123.4,744.6 L1127.0,735.8 L1130.6,727.1 L1134.2,718.3 L1137.8,709.4 L1141.5,700.6 L1145.1,691.7 L1148.7,682.7 L1152.3,673.7 L1155.9,664.7 L1159.6,655.7 L1163.2,646.6 L1166.8,637.4 L1170.4,628.3 L1174.1,619.1 L1177.7,609.8 L1181.3,600.6 L1184.9,591.2 L1188.5,581.9 L1192.2,572.5 L1195.8,563.1 L1199.4,553.6 L1203.0,544.1 L1206.6,534.6 L1210.3,525.0 L1213.9,515.4 L1217.5,505.8 L1221.1,496.1 L1224.7,486.4 L1228.4,476.7 L1232.0,466.9 L1235.6,457.1 L1239.2,447.2 L1242.8,437.3 L1246.5,427.4 L1250.1,417.4 L1253.7,407.4 L1257.3,397.4 L1260.9,387.3 L1264.6,377.2 L1268.2,367.0 L1271.8,356.8 L1275.4,346.6 L1279.1,336.4 L1282.7,326.1 L1286.3,315.7 L1289.9,305.4 L1293.5,295.0 L1297.2,284.5 L1300.8,274.0 L1304.4,263.5 L1308.0,253.0 L1311.6,242.4 L1315.3,231.8 L1318.9,221.1 L1322.5,210.4 L1326.1,199.7 L1329.7,188.9 L1333.4,178.1 L1337.0,167.3 L1340.6,156.4 L1340.7,162.9 L1340.8,169.5 L1341.0,176.0 L1341.1,182.5 L1341.3,189.1 L1341.4,195.6 L1341.6,202.1 L1341.7,208.7 L1341.9,215.2 L1342.0,221.7 L1342.2,228.3 L1342.3,234.8 L1342.5,241.3 L1342.6,247.9 L1342.8,254.4 L1342.9,260.9 L1343.1,267.5 L1343.3,274.0 L1343.4,280.6 L1343.6,287.1 L1343.7,293.6 L1343.9,300.2 L1344.1,306.7 L1344.3,313.2 L1344.4,319.8 L1344.6,326.3 L1344.8,332.8 L1345.0,339.4 L1345.2,345.9 L1345.4,352.4 L1345.6,359.0 L1345.7,365.5 L1345.9,372.0 L1346.2,378.6 L1346.4,385.1 L1346.6,391.7 L1346.8,398.2 L1347.0,404.7 L1347.2,411.3 L1347.4,417.8 L1347.7,424.3 L1347.9,430.9 L1348.1,437.4 L1348.4,443.9 L1348.6,450.5 L1348.9,457.0 L1349.1,463.5 L1349.4,470.1 L1349.7,476.6 L1349.9,483.1 L1350.2,489.7 L1350.5,496.2 L1350.8,502.7 L1351.1,509.3 L1351.4,515.8 L1351.7,522.4 L1352.0,528.9 L1352.3,535.4 L1352.6,542.0 L1352.9,548.5 L1353.3,555.0 L1353.6,561.6 L1353.9,568.1 L1354.3,574.6 L1354.6,581.2 L1355.0,587.7 L1355.4,594.2 L1355.7,600.8 L1356.1,607.3 L1356.5,613.8 L1356.9,620.4 L1357.3,626.9 L1357.7,633.5 L1358.1,640.0 L1358.5,646.5 L1359.0,653.1 L1359.4,659.6 L1359.9,666.1 L1360.3,672.7 L1360.8,679.2 L1361.2,685.7 L1361.7,692.3 L1362.2,698.8 L1362.7,705.3 L1363.2,711.9 L1363.7,718.4 L1364.2,724.9 L1364.7,731.5 L1365.2,738.0 L1365.8,744.6 L1366.3,751.1 L1366.9,757.6 L1367.4,764.2 L1368.0,770.7 L1368.6,777.2 L1369.2,783.8 L1369.7,790.3 L1370.4,796.8 L1371.0,803.4 L1371.6,809.9 L1372.2,816.4 L1372.9,823.0 L1373.5,829.5 L1374.2,836.0 L1374.8,842.6 L1375.5,849.1 L1376.2,855.6 L1376.9,862.2 L1377.6,868.7 L1378.3,875.3 L1379.0,881.8 L1379.8,888.3 L1380.5,894.9 L1381.3,901.4 L1382.0,907.9 L1382.8,914.5 L1383.6,921.0 L1384.4,927.5 L1385.2,934.1 L1386.0,940.6 L1386.8,947.1 L1387.6,953.7 L1388.5,960.2 L1389.3,966.7 L1390.2,973.3 L1391.1,979.8 L1391.9,986.4 L1392.8,992.9 L1393.7,999.4 L1394.7,1006.0 L1395.6,1012.5 L1396.5,1019.0 L1397.5,1025.6 L1398.4,1032.1 L1399.4,1038.6 L1400.4,1045.2 L1401.4,1051.7 L1402.4,1058.2 L1403.4,1064.8 L1404.4,1071.3 L1405.4,1077.8 L1406.5,1084.4 L1407.5,1090.9 L1408.6,1097.4 L1409.7,1104.0 L1410.8,1110.5 L1411.9,1117.1 L1413.0,1123.6 L1414.1,1130.1 L1416.0,1139.6 L1417.9,1148.9 L1419.8,1158.1 L1421.7,1167.1 L1423.5,1176.1 L1425.4,1185.0 L1427.3,1193.7 L1429.2,1202.3 L1431.1,1210.8 L1432.9,1219.2 L1434.8,1227.6 L1436.7,1235.8 L1438.6,1243.8 L1440.5,1251.8 L1442.4,1259.7 L1444.2,1267.5 L1446.1,1275.2 L1448.0,1282.8 L1449.9,1290.3 L1451.8,1297.7 L1453.6,1305.0 L1455.5,1312.2 L1457.4,1319.3 L1459.3,1326.4 L1461.2,1333.3 L1463.1,1340.2 L1464.9,1346.9 L1466.8,1353.6 L1468.7,1360.2 L1470.6,1366.7 L1472.5,1373.1 L1474.3,1379.5 L1476.2,1385.8 L1478.1,1391.9 L1480.0,1398.0 L1481.9,1404.1 L1483.7,1410.0 L1485.6,1415.9 L1487.5,1421.7 L1489.4,1427.4 L1491.3,1433.1 L1493.2,1438.7 L1495.0,1444.2 L1496.9,1449.6 L1498.8,1455.0 L1500.7,1460.3 L1502.6,1465.5 L1504.4,1470.7 L1506.3,1475.8 L1508.2,1480.8 L1510.1,1485.8 L1512.0,1490.7 L1513.8,1495.5 L1515.7,1500.3 L1517.6,1505.0 L1519.5,1509.7 L1521.4,1514.3 L1523.3,1518.8 L1525.1,1523.3 L1527.0,1527.8 L1528.9,1532.1 L1530.8,1536.4 L1532.7,1540.7 L1534.5,1544.9 L1536.4,1549.1 L1538.3,1553.2 L1540.2,1557.2 L1542.1,1561.2 L1544.0,1565.1 L1545.8,1569.0 L1547.7,1572.9 L1549.6,1576.7 L1551.5,1580.4 L1553.4,1584.1 L1555.2,1587.8 L1557.1,1591.4 L1559.0,1594.9 L1560.9,1598.4 L1562.8,1601.9 L1564.6,1605.3 L1566.5,1608.7 L1568.4,1612.0 L1570.3,1615.3 L1572.2,1618.5 L1574.1,1621.7 L1575.9,1624.9 L1577.8,1628.0 L1579.7,1631.1 L1581.6,1634.1 L1583.5,1637.1 L1585.3,1640.1 L1587.2,1643.0 L1589.1,1645.9 L1591.0,1648.8 L1592.9,1651.6 L1594.8,1654.3 L1596.6,1657.1 L1598.5,1659.8 L1600.4,1662.4 L1602.3,1665.0 L1604.2,1667.6 L1606.0,1670.2 L1607.9,1672.7 L1609.8,1675.2 L1611.7,1677.6 L1613.6,1680.1 L1615.4,1682.4 L1617.3,1684.8 L1619.2,1687.1 L1621.1,1689.4 L1623.0,1691.7 L1624.9,1693.9 L1626.7,1696.1 L1628.6,1698.2 L1630.5,1700.4 L1632.4,1702.5 L1634.3,1704.5 L1636.1,1706.6 L1638.0,1708.6 L1639.9,1710.5 L1641.8,1712.5 L1643.7,1714.4 L1645.6,1716.3 L1647.4,1718.2 L1649.3,1720.0 L1651.2,1721.8 L1653.1,1723.6 L1655.0,1725.3 L1656.8,1727.1 L1658.7,1728.8 L1660.6,1730.4 L1662.5,1732.1 L1664.4,1733.7 L1666.2,1735.3 L1668.1,1736.8 L1670.0,1738.4 L1671.9,1739.9 L1673.8,1741.3 L1675.7,1742.8 L1677.5,1744.2 L1679.4,1745.6 L1681.3,1747.0 L1683.2,1748.4 L1685.1,1749.7 L1686.9,1751.0 L1688.8,1752.3 L1690.7,1753.5 L1692.6,1754.7 L1694.5,1755.9 L1696.4,1757.1 L1698.2,1758.3 L1700.1,1759.4 L1702.0,1760.5 L1703.9,1761.6 L1705.8,1762.6 L1707.6,1763.6 L1709.5,1764.6 L1711.4,1765.6 L1713.3,1766.6 L1715.2,1767.5 L1717.0,1768.4 L1718.9,1769.3 L1720.8,1770.2 L1722.7,1771.0 L1724.6,1771.8 L1726.5,1772.6 L1728.3,1773.4 L1730.2,1774.1 L1732.1,1774.8 L1734.0,1775.5 L1735.9,1776.2 L1737.7,1776.8 L1739.6,1777.5 L1741.5,1778.1 L1743.4,1778.6 L1745.3,1779.2 L1747.2,1779.7 L1749.0,1780.2 L1750.9,1780.7 L1752.8,1781.2 L1754.7,1781.6 L1756.6,1782.0 L1758.4,1782.4 L1760.3,1782.8 L1762.2,1783.1 L1764.1,1783.4 L1766.0,1783.7 L1767.8,1784.0 L1769.7,1784.2 L1771.6,1784.4 L1773.5,1784.6 L1775.4,1784.8 L1777.3,1785.0 L1779.1,1785.1 L1781.0,1785.2 L1782.9,1785.3 L1784.8,1785.4 L1786.7,1785.4 L1788.5,1785.4 L1790.1,1785.4 L1791.7,1785.4 L1793.3,1785.3 L1794.8,1785.3 L1796.4,1785.2 L1798.0,1785.2 L1799.6,1785.1 L1801.1,1785.0 L1802.7,1784.9 L1804.3,1784.7 L1805.9,1784.6 L1807.5,1784.5 L1809.0,1784.3 L1810.6,1784.1 L1812.2,1783.9 L1813.8,1783.7 L1815.3,1783.5 L1816.9,1783.3 L1818.5,1783.1 L1820.1,1782.8 L1821.6,1782.5 L1823.2,1782.3 L1824.8,1782.0 L1826.4,1781.7 L1827.9,1781.4 L1829.5,1781.0 L1831.1,1780.7 L1832.7,1780.4 L1834.2,1780.0 L1835.8,1779.6 L1837.4,1779.2 L1839.0,1778.8 L1840.5,1778.4 L1842.1,1778.0 L1843.7,1777.6 L1845.3,1777.1 L1846.8,1776.7 L1848.4,1776.2 L1850.0,1775.7 L1851.6,1775.2 L1853.2,1774.7 L1854.7,1774.2 L1856.3,1773.7 L1857.9,1773.1 L1859.5,1772.6 L1861.0,1772.0 L1862.6,1771.4 L1864.2,1770.8 L1865.8,1770.2 L1867.3,1769.6 L1868.9,1769.0 L1870.5,1768.4 L1872.1,1767.7 L1873.6,1767.0 L1875.2,1766.4 L1876.8,1765.7 L1878.4,1765.0 L1879.9,1764.3 L1881.5,1763.6 L1883.1,1762.9 L1884.7,1762.1 L1886.2,1761.4 L1887.8,1760.6 L1889.4,1759.8 L1891.0,1759.0 L1892.5,1758.3 L1894.1,1757.4 L1895.7,1756.6 L1897.3,1755.8 L1898.9,1755.0 L1900.4,1754.1 L1902.0,1753.2 L1903.6,1752.4 L1905.2,1751.5 L1906.7,1750.6 L1908.3,1749.7 L1909.9,1748.8 L1911.5,1747.8 L1913.0,1746.9 L1914.6,1745.9 L1916.2,1745.0 L1917.8,1744.0 L1919.3,1743.0 L1920.9,1742.0 L1922.5,1741.0 L1924.1,1740.0 L1925.6,1739.0 L1927.2,1738.0 L1928.8,1736.9 L1930.4,1735.8 L1931.9,1734.8 L1933.5,1733.7 L1935.1,1732.6 L1936.7,1731.5 L1938.2,1730.4 L1939.8,1729.3 L1941.4,1728.1 L1943.0,1727.0 L1944.6,1725.8 L1946.1,1724.7 L1947.7,1723.5 L1949.3,1722.3 L1950.9,1721.1 L1952.4,1719.9 L1954.0,1718.7 L1955.6,1717.5 L1957.2,1716.2 L1958.7,1715.0 L1960.3,1713.7 L1961.9,1712.4 L1963.5,1711.2 L1965.0,1709.9 L1966.6,1708.6 L1968.2,1707.2 L1969.8,1705.9 L1971.3,1704.6 L1972.9,1703.3 L1974.5,1701.9 L1976.1,1700.5 L1977.6,1699.2 L1979.2,1697.8 L1980.8,1696.4 L1982.4,1695.0 L1983.9,1693.6 L1985.5,1692.1 L1987.1,1690.7 L1988.7,1689.3 L1990.3,1687.8 L1991.8,1686.3 L1993.4,1684.9 L1995.0,1683.4 L1996.6,1681.9 L1998.1,1680.4 L1999.7,1678.8 L2001.3,1677.3 L2002.9,1675.8 L2004.4,1674.2 L2006.0,1672.7 L2007.6,1671.1 L2009.2,1669.5 L2010.7,1667.9 L2012.3,1666.3 L2013.9,1664.7 L2015.5,1663.1 L2017.0,1661.5 L2018.6,1659.8 L2020.2,1658.2 L2021.8,1656.5 L2023.3,1654.9 L2024.9,1653.2 L2026.5,1651.5 L2028.1,1649.8 L2029.6,1648.1 L2031.2,1646.4 L2032.8,1644.6 L2034.4,1642.9 L2036.0,1641.2 L2037.5,1639.4 L2039.1,1637.6 L2040.7,1635.8 L2042.3,1634.1 L2043.8,1632.3 L2045.4,1630.4 L2047.0,1628.6 L2048.6,1626.8 L2050.1,1625.0 L2051.7,1623.1 L2053.3,1621.2 L2054.9,1619.4 L2056.4,1617.5 L2058.0,1615.6 L2059.6,1613.7 L2061.2,1611.8 L2062.7,1609.9 L2064.3,1608.0 L2065.9,1606.0 L2067.5,1604.1 L2069.0,1602.1 L2070.6,1600.1 L2072.2,1598.2 L2073.8,1596.2 L2075.3,1594.2 L2076.9,1592.2 L2078.5,1590.1 L2080.1,1588.1 L2081.7,1586.1 L2083.2,1584.0 L2084.8,1582.0 L2086.4,1579.9 L2088.0,1577.8 L2089.5,1575.7 L2091.1,1573.6 L2092.7,1571.5 L2094.3,1569.4 L2095.8,1567.3 L2097.4,1565.1 L2099.0,1563.0 L2100.6,1560.8 L2102.1,1558.6 L2103.7,1556.5 L2105.3,1554.3 L2106.9,1552.1 L2108.4,1549.9 L2110.0,1547.6 L2111.6,1545.4 L2113.2,1543.2 L2114.7,1540.9 L2116.3,1538.7 L2117.9,1536.4 L2119.5,1534.1 L2121.0,1531.8 L2122.6,1529.5 L2124.2,1527.2 L2125.8,1524.9 L2127.4,1522.5 L2128.9,1520.2 L2130.5,1517.8 L2132.1,1515.5 L2133.7,1513.1 L2135.2,1510.7 L2136.8,1508.3 L2138.4,1505.9 L2140.0,1503.5 L2141.5,1501.1 L2143.1,1498.7 L2144.7,1496.2 L2146.3,1493.8 L2147.8,1491.3 L2149.4,1488.8 L2151.0,1486.3 L2152.6,1483.8 L2154.1,1481.3 L2155.7,1478.8 L2157.3,1476.3 L2158.9,1473.8 L2160.4,1471.2 L2162.0,1468.6 L2163.6,1466.1 L2165.2,1463.5 L2166.7,1460.9 L2168.3,1458.3 L2169.9,1455.7 L2171.5,1453.1 L2173.0,1450.4 L2174.6,1447.8 L2176.2,1445.1 L2177.8,1442.5 L2179.4,1439.8 L2180.9,1437.1 L2182.5,1434.4 L2184.1,1431.7 L2185.7,1429.0 L2187.2,1426.3 L2188.8,1423.5 L2190.4,1420.8 L2192.0,1418.0 L2193.5,1415.3 L2195.1,1412.5 L2196.7,1409.7 L2198.3,1406.9 L2199.8,1404.1 L2201.4,1401.3 L2203.0,1398.4 L2204.6,1395.6 L2206.1,1392.7 L2207.7,1389.8 L2209.3,1387.0 L2210.9,1384.1 L2212.4,1381.2 L2214.0,1378.3 L2215.6,1375.3 L2217.2,1372.4 L2218.7,1369.5 L2220.3,1366.5 L2221.9,1363.5 L2223.5,1360.6 L2225.1,1357.6 L2226.6,1354.6 L2228.2,1351.6 L2229.8,1348.6 L2231.4,1345.5 L2232.9,1342.5 L2234.5,1339.4 L2236.1,1336.4 L2237.7,1333.3 L2239.2,1330.2 L2240.8,1327.1 L2242.4,1324.0 L2244.0,1320.8 L2245.5,1317.7 L2247.1,1314.6 L2248.7,1311.4 L2250.3,1308.2 L2251.8,1305.1 L2253.4,1301.9 L2255.0,1298.7 L2256.6,1295.4 L2258.0,1292.5" stroke="#77AC30" stroke-width="11.5" fill="none" stroke-linejoin="round" stroke-linecap="butt"/>
<path d="M1878.5,1829 V37" stroke="#FF0000" stroke-width="7.2" stroke-dasharray="53.3 30.26" fill="none"/>
<circle cx="1790.7" cy="1792.2" r="17" fill="#000"/>
<circle cx="1882.4" cy="1792.4" r="17" fill="#000"/>
<rect x="1949" y="1777" width="33" height="33" fill="#0000FF"/>
<defs><clipPath id="no1foot" clipPathUnits="userSpaceOnUse"><rect x="-20" y="-200" width="400" height="191.5"/><rect x="38.5" y="-20" width="400" height="60"/><rect x="17.1" y="-20" width="6.6" height="60"/></clipPath></defs>
<text transform="translate(195.88,1813.00) scale(0.8700,1.0000)" font-family="Liberation Sans, sans-serif" font-style="normal" font-size="70.4" fill="#262626" stroke="#262626" stroke-width="0.7">0</text>
<text clip-path="url(#no1foot)" transform="translate(127.15,1594.00) scale(0.8700,1.0000)" font-family="Liberation Sans, sans-serif" font-style="normal" font-size="70.4" fill="#262626" stroke="#262626" stroke-width="0.7">100</text>
<text transform="translate(127.15,1376.00) scale(0.8700,1.0000)" font-family="Liberation Sans, sans-serif" font-style="normal" font-size="70.4" fill="#262626" stroke="#262626" stroke-width="0.7">200</text>
<text transform="translate(127.15,1158.00) scale(0.8700,1.0000)" font-family="Liberation Sans, sans-serif" font-style="normal" font-size="70.4" fill="#262626" stroke="#262626" stroke-width="0.7">300</text>
<text transform="translate(127.15,939.00) scale(0.8700,1.0000)" font-family="Liberation Sans, sans-serif" font-style="normal" font-size="70.4" fill="#262626" stroke="#262626" stroke-width="0.7">400</text>
<text transform="translate(127.15,721.00) scale(0.8700,1.0000)" font-family="Liberation Sans, sans-serif" font-style="normal" font-size="70.4" fill="#262626" stroke="#262626" stroke-width="0.7">500</text>
<text transform="translate(127.15,502.00) scale(0.8700,1.0000)" font-family="Liberation Sans, sans-serif" font-style="normal" font-size="70.4" fill="#262626" stroke="#262626" stroke-width="0.7">600</text>
<text transform="translate(127.15,284.00) scale(0.8700,1.0000)" font-family="Liberation Sans, sans-serif" font-style="normal" font-size="70.4" fill="#262626" stroke="#262626" stroke-width="0.7">700</text>
<text transform="translate(127.15,66.00) scale(0.8700,1.0000)" font-family="Liberation Sans, sans-serif" font-style="normal" font-size="70.4" fill="#262626" stroke="#262626" stroke-width="0.7">800</text>
<text transform="translate(240.53,1929.00) scale(0.8700,1.0000)" font-family="Liberation Sans, sans-serif" font-style="normal" font-size="70.4" fill="#262626" stroke="#262626" stroke-width="0.7">0</text>
<text transform="translate(556.03,1929.00) scale(0.8700,1.0000)" font-family="Liberation Sans, sans-serif" font-style="normal" font-size="70.4" fill="#262626" stroke="#262626" stroke-width="0.7">20</text>
<text transform="translate(890.24,1929.00) scale(0.8700,1.0000)" font-family="Liberation Sans, sans-serif" font-style="normal" font-size="70.4" fill="#262626" stroke="#262626" stroke-width="0.7">40</text>
<text transform="translate(1222.70,1929.00) scale(0.8700,1.0000)" font-family="Liberation Sans, sans-serif" font-style="normal" font-size="70.4" fill="#262626" stroke="#262626" stroke-width="0.7">60</text>
<text transform="translate(1556.47,1929.00) scale(0.8700,1.0000)" font-family="Liberation Sans, sans-serif" font-style="normal" font-size="70.4" fill="#262626" stroke="#262626" stroke-width="0.7">80</text>
<text clip-path="url(#no1foot)" transform="translate(1871.97,1929.00) scale(0.8700,1.0000)" font-family="Liberation Sans, sans-serif" font-style="normal" font-size="70.4" fill="#262626" stroke="#262626" stroke-width="0.7">100</text>
<text clip-path="url(#no1foot)" transform="translate(2205.30,1929.00) scale(0.8700,1.0000)" font-family="Liberation Sans, sans-serif" font-style="normal" font-size="70.4" fill="#262626" stroke="#262626" stroke-width="0.7">120</text>
<text transform="translate(80.6,1335.75) rotate(-90) scale(1.0248,1)" font-family="Liberation Serif, serif" font-size="80" fill="#000" stroke="#000" stroke-width="0.6">Reactive Power [Var]</text>
<text transform="translate(1138.79,2024.50) scale(1.0059,1.0000)" font-family="Liberation Serif, serif" font-style="italic" font-size="79" fill="#000" stroke="#000" stroke-width="0.6">v</text>
<text transform="translate(1178.58,2024.60) scale(0.8600,1.0000)" font-family="Liberation Serif, serif" font-style="italic" font-size="47" fill="#000" stroke="#000" stroke-width="0.4">p</text>
<text transform="translate(1199.00,2024.10) scale(0.9500,1.0000)" font-family="Liberation Serif, serif" font-style="italic" font-size="46" fill="#000" stroke="#000" stroke-width="0.4">1</text>
<text transform="translate(1233.48,2017.70) scale(0.7407,0.8870)" font-family="Liberation Serif, serif" font-style="italic" font-size="79" fill="#000" stroke="#000" stroke-width="0.6">(</text>
<text transform="translate(1255.80,2025.00) scale(0.9500,1.0000)" font-family="Liberation Serif, serif" font-style="italic" font-size="79" fill="#000" stroke="#000" stroke-width="0.6">k</text>
<text transform="translate(1294.93,2017.70) scale(0.7321,0.8870)" font-family="Liberation Serif, serif" font-style="italic" font-size="79" fill="#000" stroke="#000" stroke-width="0.6">)</text>
<text transform="translate(1335.64,2028.50) scale(0.8941,1.0400)" font-family="Liberation Serif, serif" font-style="normal" font-size="79" fill="#000" stroke="#000" stroke-width="0.6">[</text>
<text transform="translate(1359.76,2024.50) scale(0.9436,1.0000)" font-family="Liberation Serif, serif" font-style="normal" font-size="79" fill="#000" stroke="#000" stroke-width="0.6">V</text>
<text transform="translate(1414.35,2028.50) scale(0.8824,1.0400)" font-family="Liberation Serif, serif" font-style="normal" font-size="79" fill="#000" stroke="#000" stroke-width="0.6">]</text>
<text transform="translate(1075.92,133.00) scale(0.9180,1.0000)" font-family="Liberation Serif, serif" font-style="italic" font-size="119" fill="#7030A0">L</text>
<text transform="translate(1134.12,134.00) scale(0.9396,1.0000)" font-family="Liberation Serif, serif" font-style="italic" font-size="72" fill="#7030A0">emax</text>
<text transform="translate(819.66,385.00) scale(0.9676,1.0000)" font-family="Liberation Serif, serif" font-style="normal" font-size="119" fill="#00B050">0.9</text>
<text transform="translate(967.20,385.20) scale(0.9033,1.0000)" font-family="Liberation Serif, serif" font-style="italic" font-size="119" fill="#00B050">L</text>
<text transform="translate(1025.63,385.50) scale(0.9362,1.0000)" font-family="Liberation Serif, serif" font-style="italic" font-size="72" fill="#00B050">emax</text>
<text transform="translate(1539.84,412.00) scale(0.9462,1.0000)" font-family="Liberation Serif, serif" font-style="normal" font-size="119" fill="#C00000">1.1</text>
<text transform="translate(1687.87,412.00) scale(0.8689,1.0000)" font-family="Liberation Serif, serif" font-style="italic" font-size="119" fill="#C00000">L</text>
<text transform="translate(1744.41,412.00) scale(0.9463,1.0000)" font-family="Liberation Serif, serif" font-style="italic" font-size="72" fill="#C00000">emax</text>
<path d="M1287.2,118.5 L1375.7,151.2" stroke="#7030A0" stroke-width="7.4" stroke-linecap="round" fill="none"/><path d="M1394.0,158.0 L1370.0,160.9 L1374.3,154.7 L1376.9,147.7 L1377.7,140.2 Z" fill="#7030A0"/>
<path d="M1171.5,379.4 L1236.3,379.4" stroke="#00B050" stroke-width="6.7" stroke-linecap="round" fill="none"/><path d="M1256.1,379.4 L1234.3,390.2 L1236.2,382.8 L1236.2,376.0 L1234.3,368.6 Z" fill="#00B050"/>
<path d="M1559.4,379.5 L1499.9,379.5" stroke="#C00000" stroke-width="9" stroke-linecap="round" fill="none"/><path d="M1475.9,379.5 L1501.9,366.5 L1500.0,375.0 L1500.0,384.0 L1501.9,392.5 Z" fill="#C00000"/>
</svg></body></html>
